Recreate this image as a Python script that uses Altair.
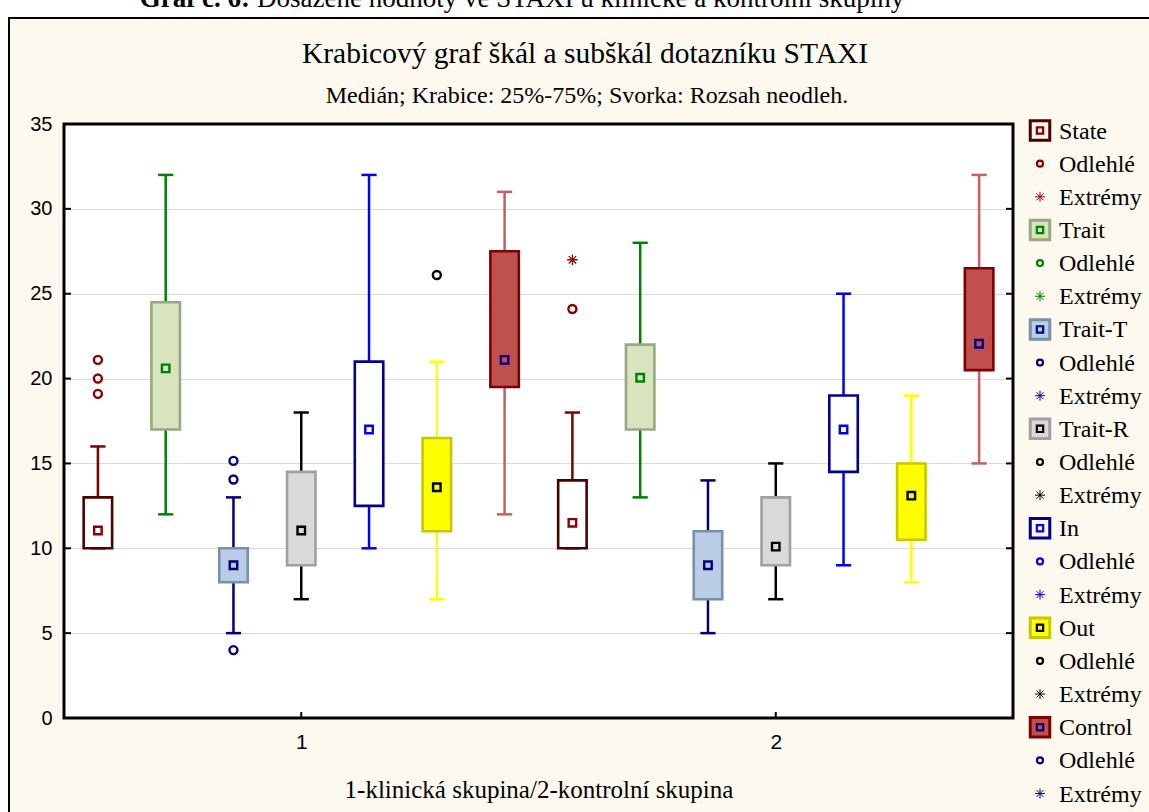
import altair as alt
import pandas as pd

# ---------------- data ----------------
groups = [1, 2]
series = ["State", "Trait", "Trait-T", "Trait-R", "In", "Out", "Control"]

box_low_1 = [10, 17, 8, 9, 12.5, 11, 19.5]
box_high_1 = [13, 24.5, 10, 14.5, 21, 16.5, 27.5]
median_1 = [11.05, 20.6, 9, 11.05, 17, 13.6, 21.1]
whisk_low_1 = [10, 12, 5, 7, 10, 7, 12]
whisk_high_1 = [16, 32, 13, 18, 32, 21, 31]

box_low_2 = [10, 17, 7, 9, 14.5, 10.5, 20.5]
box_high_2 = [14, 22, 11, 13, 19, 15, 26.5]
median_2 = [11.5, 20.05, 9, 10.1, 17, 13.1, 22.05]
whisk_low_2 = [10, 13, 5, 7, 9, 8, 15]
whisk_high_2 = [18, 28, 14, 15, 25, 19, 32]

outlier_group = [1, 1, 1, 1, 1, 1, 1, 2]
outlier_series = ["State", "State", "State", "Trait-T", "Trait-T", "Trait-T", "Out", "State"]
outlier_value = [21.1, 20, 19.1, 15.15, 14.05, 4, 26.1, 24.1]

extreme_group = [2]
extreme_series = ["State"]
extreme_value = [27]

y_ticks = [0, 5, 10, 15, 20, 25, 30, 35]
x_ticks = [1, 2]

header_bold = "Graf č. 6:"
header_rest = "Dosažené hodnoty ve STAXI u klinické a kontrolní skupiny"
title_text = "Krabicový graf škál a subškál dotazníku STAXI"
subtitle_text = "Medián; Krabice: 25%-75%; Svorka: Rozsah neodleh."
x_title = "1-klinická skupina/2-kontrolní skupina"
outlier_label = "Odlehlé"
extreme_label = "Extrémy"

# ---------------- styles ----------------
box_fill = {"State": "#FFFFFF", "Trait": "#D7E4BD", "Trait-T": "#B9CDE5", "Trait-R": "#D9D9D9",
            "In": "#FFFFFF", "Out": "#FFFF00", "Control": "#C0504D"}
BG = "#FDF9EE"
legend_fill = dict(box_fill, State=BG, In=BG)
box_stroke = {"State": "#4D0000", "Trait": "#98A882", "Trait-T": "#7A8FAB", "Trait-R": "#A0A0A0",
              "In": "#000099", "Out": "#C8C800", "Control": "#7F0000"}
whisker_color = {"State": "#800000", "Trait": "#008000", "Trait-T": "#000080", "Trait-R": "#000000",
                 "In": "#0000FF", "Out": "#FFFF00", "Control": "#C86060"}
median_color = {"State": "#8B0000", "Trait": "#008000", "Trait-T": "#000080", "Trait-R": "#000000",
                "In": "#0000FF", "Out": "#000000", "Control": "#000080"}
outlier_color = {"State": "#8B0000", "Trait": "#008000", "Trait-T": "#000080", "Trait-R": "#000000",
                 "In": "#0000FF", "Out": "#000000", "Control": "#000080"}
extreme_color = {"State": "#A00000", "Trait": "#008000", "Trait-T": "#0000A0", "Trait-R": "#000000",
                 "In": "#0000FF", "Out": "#000000", "Control": "#0000C0"}

W, H = 949, 594
SERIF = "Liberation Serif"
SANS = "Liberation Sans"
BOX_HALF = 0.03
CAP_HALF = 0.016
ASTERISK = "M-1,0L1,0M0,-1L0,1M-0.7,-0.7L0.7,0.7M-0.7,0.7L0.7,-0.7"

# ---------------- tables ----------------
rows = []
for g, lows, highs, meds, wl, wh in [
    (1, box_low_1, box_high_1, median_1, whisk_low_1, whisk_high_1),
    (2, box_low_2, box_high_2, median_2, whisk_low_2, whisk_high_2),
]:
    for k, s in enumerate(series):
        c = g + (k - 3) / 7
        rows.append(dict(group=g, series=s, c=c, xl=c - BOX_HALF, xr=c + BOX_HALF,
                         cl=c - CAP_HALF, cr=c + CAP_HALF,
                         q1=lows[k], q3=highs[k], med=meds[k], wl=wl[k], wh=wh[k],
                         fill=box_fill[s], stroke=box_stroke[s], wcol=whisker_color[s],
                         mcol=median_color[s]))
boxes = pd.DataFrame(rows)

outl = pd.DataFrame(dict(group=outlier_group, series=outlier_series, v=outlier_value))
outl["c"] = [g + (series.index(s) - 3) / 7 for g, s in zip(outl.group, outl.series)]
outl["col"] = [outlier_color[s] for s in outl.series]

extr = pd.DataFrame(dict(group=extreme_group, series=extreme_series, v=extreme_value))
extr["c"] = [g + (series.index(s) - 3) / 7 for g, s in zip(extr.group, extr.series)]
extr["col"] = [extreme_color[s] for s in extr.series]

leg_rows = []
for i, s in enumerate(series):
    leg_rows.append(dict(row=3 * i, kind="box", label=s, fill=legend_fill[s], stroke=box_stroke[s],
                         col=median_color[s]))
    leg_rows.append(dict(row=3 * i + 1, kind="out", label=outlier_label, fill=BG, stroke=BG,
                         col=outlier_color[s]))
    leg_rows.append(dict(row=3 * i + 2, kind="ext", label=extreme_label, fill=BG, stroke=BG,
                         col=extreme_color[s]))
leg = pd.DataFrame(leg_rows)

# ---------------- scales ----------------
xs = alt.Scale(domain=[0.5, 2.5], nice=False, zero=False)
ys = alt.Scale(domain=[0, 35], nice=False, zero=True)

X = alt.X("c:Q", scale=xs,
          axis=alt.Axis(values=x_ticks, format="d", title=x_title, grid=False, domain=False, ticks=False,
                        labelFont=SANS, labelFontSize=21, labelColor="black", labelPadding=13,
                        titleFont=SERIF, titleFontSize=25, titleFontWeight="normal", titleColor="black",
                        titlePadding=25))
Y = alt.Y("wl:Q", scale=ys,
          axis=alt.Axis(values=y_ticks, title=None, grid=True, gridColor="#DCDCDC", gridWidth=1,
                        domain=False, ticks=False, labelFont=SANS, labelFontSize=20,
                        labelColor="black", labelPadding=12))

base = alt.Chart(boxes)

whisk_lo = base.mark_rule(strokeWidth=2.5).encode(
    x=X, y=Y, y2="q1:Q", color=alt.Color("wcol:N", scale=None))
whisk_hi = base.mark_rule(strokeWidth=2.5).encode(
    x="c:Q", y=alt.Y("q3:Q", scale=ys), y2="wh:Q", color=alt.Color("wcol:N", scale=None))
cap_lo = base.mark_rule(strokeWidth=2.5).encode(
    x=alt.X("cl:Q", scale=xs), x2="cr:Q", y=alt.Y("wl:Q", scale=ys), color=alt.Color("wcol:N", scale=None))
cap_hi = base.mark_rule(strokeWidth=2.5).encode(
    x=alt.X("cl:Q", scale=xs), x2="cr:Q", y=alt.Y("wh:Q", scale=ys), color=alt.Color("wcol:N", scale=None))
box = base.mark_rect(strokeWidth=2.6).encode(
    x=alt.X("xl:Q", scale=xs), x2="xr:Q", y=alt.Y("q1:Q", scale=ys), y2="q3:Q",
    fill=alt.Fill("fill:N", scale=None), stroke=alt.Stroke("stroke:N", scale=None))
med = base.mark_point(shape="square", filled=False, size=56, strokeWidth=2.4, opacity=1).encode(
    x=alt.X("c:Q", scale=xs), y=alt.Y("med:Q", scale=ys), stroke=alt.Stroke("mcol:N", scale=None))
out_pts = alt.Chart(outl).mark_point(shape="circle", filled=False, size=64, strokeWidth=2.4, opacity=1).encode(
    x=alt.X("c:Q", scale=xs), y=alt.Y("v:Q", scale=ys), stroke=alt.Stroke("col:N", scale=None))
ext_pts = alt.Chart(extr).mark_point(shape=ASTERISK, filled=False, size=110, strokeWidth=1.3, opacity=1).encode(
    x=alt.X("c:Q", scale=xs), y=alt.Y("v:Q", scale=ys), stroke=alt.Stroke("col:N", scale=None))

# inward ticks
yt = alt.Chart(pd.DataFrame({"t": y_ticks[1:-1]}))
tick_l = yt.mark_rule(color="black", strokeWidth=2).encode(
    y=alt.Y("t:Q", scale=ys), x=alt.value(0), x2=alt.value(7))
tick_r = yt.mark_rule(color="black", strokeWidth=2).encode(
    y=alt.Y("t:Q", scale=ys), x=alt.value(W - 7), x2=alt.value(W))
tick_b = alt.Chart(pd.DataFrame({"t": x_ticks})).mark_rule(color="black", strokeWidth=2).encode(
    x=alt.X("t:Q", scale=xs), y=alt.value(H - 6), y2=alt.value(H))

one = alt.Chart(pd.DataFrame({"a": [0]}))
border = one.mark_rect(fillOpacity=0, stroke="black", strokeWidth=3).encode(
    x=alt.value(0), x2=alt.value(W), y=alt.value(0), y2=alt.value(H))
frame = one.mark_rect(fillOpacity=0, stroke="black", strokeWidth=2).encode(
    x=alt.value(-55), x2=alt.value(W + 160), y=alt.value(-106), y2=alt.value(H + 120))
white_top = one.mark_rect(fill="white").encode(
    x=alt.value(-70), x2=alt.value(W + 160), y=alt.value(-130), y2=alt.value(-107))
white_left = one.mark_rect(fill="white").encode(
    x=alt.value(-70), x2=alt.value(-56), y=alt.value(-130), y2=alt.value(H + 120))

texts = pd.DataFrame({"hb": [header_bold], "hr": [header_rest], "t": [title_text], "s": [subtitle_text]})
tch = alt.Chart(texts)
head_b = tch.mark_text(font=SERIF, fontSize=27, fontWeight="bold", align="right", baseline="alphabetic",
                       color="black").encode(text="hb:N", x=alt.value(186), y=alt.value(-117))
head_r = tch.mark_text(font=SERIF, fontSize=27, align="left", baseline="alphabetic",
                       color="black").encode(text="hr:N", x=alt.value(193), y=alt.value(-117))
title = tch.mark_text(font=SERIF, fontSize=29.5, align="center", baseline="alphabetic",
                      color="black").encode(text="t:N", x=alt.value(521), y=alt.value(-61))
subtitle = tch.mark_text(font=SERIF, fontSize=24, align="center", baseline="alphabetic",
                         color="black").encode(text="s:N", x=alt.value(523), y=alt.value(-21))

main = alt.layer(whisk_lo, whisk_hi, cap_lo, cap_hi, box, med, out_pts, ext_pts,
                 tick_l, tick_r, tick_b, border, white_top, white_left, frame,
                 head_b, head_r, title, subtitle)

# ---------------- legend ----------------
ly = alt.Y("row:Q", scale=alt.Scale(domain=[0, 20], range=[6.5, 669.5]), axis=None)
lc = alt.Chart(leg)
leg_box = lc.transform_filter("datum.kind == 'box'").mark_point(
    shape="square", filled=True, size=380, strokeWidth=3, opacity=1).encode(
    y=ly, x=alt.value(976), fill=alt.Fill("fill:N", scale=None), stroke=alt.Stroke("stroke:N", scale=None))
leg_inner = lc.transform_filter("datum.kind == 'box'").mark_point(
    shape="square", filled=False, size=40, strokeWidth=2.2, opacity=1).encode(
    y=ly, x=alt.value(976), stroke=alt.Stroke("col:N", scale=None))
leg_out = lc.transform_filter("datum.kind == 'out'").mark_point(
    shape="circle", filled=False, size=36, strokeWidth=2.2, opacity=1).encode(
    y=ly, x=alt.value(976), stroke=alt.Stroke("col:N", scale=None))
leg_ext = lc.transform_filter("datum.kind == 'ext'").mark_point(
    shape=ASTERISK, filled=False, size=100, strokeWidth=1, opacity=1).encode(
    y=ly, x=alt.value(976), stroke=alt.Stroke("col:N", scale=None))
leg_txt = lc.mark_text(font=SERIF, fontSize=24, align="left", baseline="middle", color="black", dy=1).encode(
    y=ly, x=alt.value(995), text="label:N")
legend = alt.layer(leg_box, leg_inner, leg_out, leg_ext, leg_txt)

chart = alt.layer(main, legend).resolve_scale(y="independent").properties(
    width=W, height=H,
    autosize=alt.AutoSizeParams(type="none"),
    padding={"left": 64, "top": 124, "right": 1149 - 64 - W, "bottom": 812 - 124 - H},
).configure(background=BG).configure_view(fill="white", stroke=None)

chart.save("out.html", embed_options={"renderer": "svg", "actions": False})
